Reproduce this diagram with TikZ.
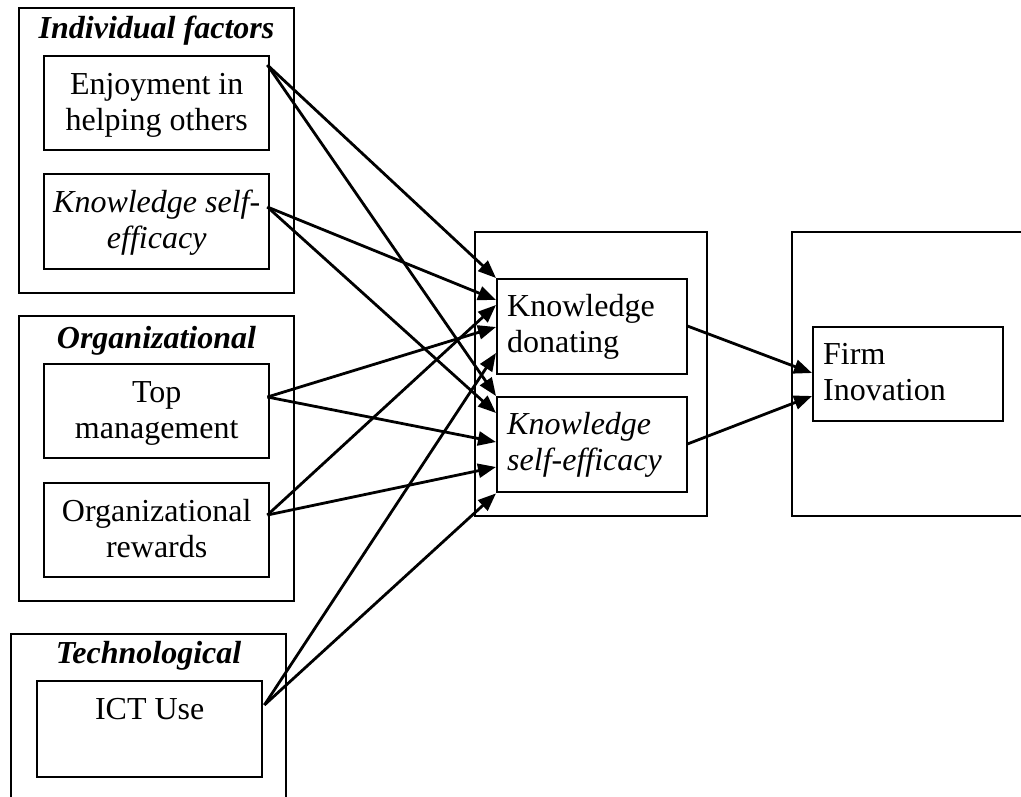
\documentclass[tikz,border=0pt]{standalone}
\usepackage{fontspec}
\setmainfont{Liberation Serif}
\usetikzlibrary{arrows.meta,calc}
\newcommand\cbox[3]{\parbox[t][#2pt][t]{#1pt}{\centering\rule{0pt}{38pt}#3}}
\newcommand\lbox[3]{\parbox[t][#2pt][t]{#1pt}{\raggedright\leftskip=10pt\rule{0pt}{37pt}#3}}
\newcommand\tbox[4]{\parbox[t][#2pt][t]{#1pt}{\centering\rule{0pt}{#3pt}\bfseries\itshape #4}}
\begin{document}
\begin{tikzpicture}[x=1pt,y=-1pt,
  font=\fontsize{32}{36}\selectfont,
  obox/.style={draw, line width=2pt, inner sep=0pt, anchor=north west},
  ibox/.style={draw, line width=2.4pt, inner sep=0pt, anchor=north west, fill=white},
  arr/.style={line width=2.8pt, -{Triangle[length=18pt,width=14pt]}}]
\useasboundingbox (0,0) rectangle (1021,796);
\clip (0,0) rectangle (1021,796);
% outer group boxes
\node[obox] (indiv) at (18,7) {\tbox{275}{285}{30}{Individual factors}};
\node[obox] (org) at (18,315) {\tbox{275}{285}{32}{Organizational}};
\node[obox] (tech) at (10,633) {\tbox{275}{200}{29}{Technological}};
\node[obox, minimum width=232, minimum height=284] (mid) at (474,231) {};
\node[obox, minimum width=280, minimum height=284] (firm) at (791,231) {};
% inner boxes
\node[ibox] (enj) at (43,55) {\cbox{225}{94}{Enjoyment in\\helping others}};
\node[ibox] (kse1) at (43,173) {\cbox{225}{95}{\itshape Knowledge self-\\efficacy}};
\node[ibox] (top) at (43,363) {\cbox{225}{94}{Top\\management}};
\node[ibox] (rew) at (43,482) {\cbox{225}{94}{Organizational\\rewards}};
\node[ibox] (ict) at (36,680) {\cbox{225}{96}{ICT Use}};
\node[ibox] (kd) at (496,278) {\lbox{190}{95}{Knowledge\\donating}};
\node[ibox] (kse2) at (496,396) {\lbox{190}{95}{\itshape Knowledge\\self-efficacy}};
\node[ibox] (fi) at (812,326) {\lbox{190}{94}{Firm\\Inovation}};
% connectors
\draw[arr] ($(enj.north east)+(-3,10)$) -- (kd.north west);
\draw[arr] ($(enj.north east)+(-3,10)$) -- (kse2.north west);
\draw[arr] ($(kse1.north east)+(-3,34)$) -- ($(kd.north west)+(0,22)$);
\draw[arr] ($(kse1.north east)+(-3,34)$) -- ($(kse2.north west)+(0,17)$);
\draw[arr] ($(top.north east)+(-3,34)$) -- ($(kd.north west)+(0,49)$);
\draw[arr] ($(top.north east)+(-3,34)$) -- ($(kse2.north west)+(0,46)$);
\draw[arr] ($(rew.north east)+(-3,33)$) -- ($(kd.north west)+(0,27)$);
\draw[arr] ($(rew.north east)+(-3,33)$) -- ($(kse2.north west)+(0,71)$);
\draw[arr] ($(ict.north east)+(1,25)$) -- ($(kd.north west)+(0,75)$);
\draw[arr] ($(ict.north east)+(1,25)$) -- (kse2.south west);
\draw[arr] ($(kd.north east)+(-1,48)$) -- ($(fi.north west)+(0,47)$);
\draw[arr] ($(kse2.north east)+(-1,48)$) -- ($(fi.north west)+(0,70)$);
\end{tikzpicture}
\end{document}
